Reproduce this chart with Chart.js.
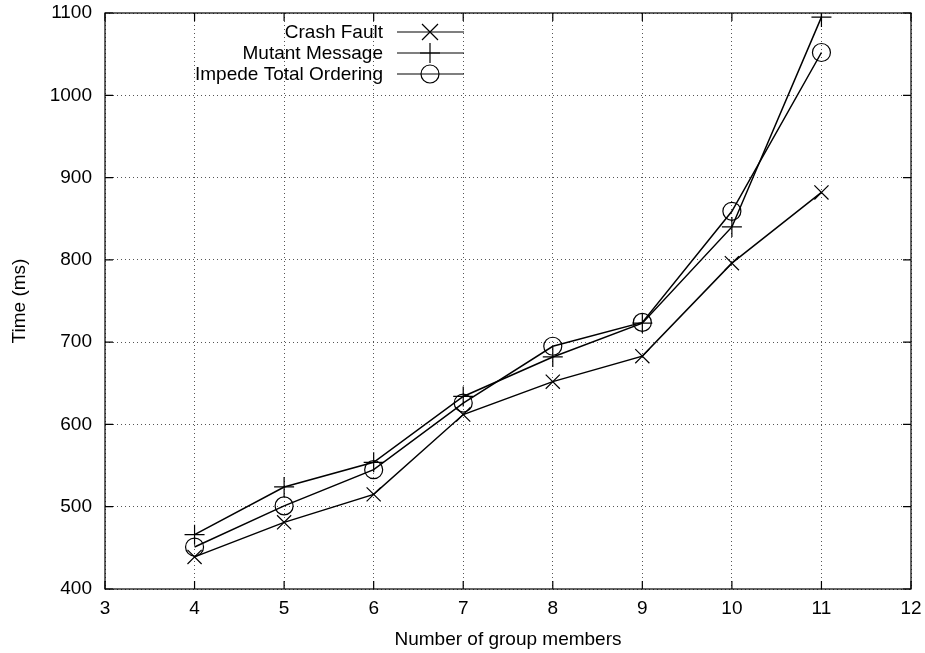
<!DOCTYPE html>
<html>
<head>
<meta charset="utf-8">
<script src="https://cdn.jsdelivr.net/npm/chart.js@4/dist/chart.umd.min.js"></script>
<style>
  body { margin: 0; background: #fff; }
  #wrap { width: 925px; height: 653px; }
</style>
</head>
<body>
<div id="wrap"><canvas id="chart"></canvas></div>
<script>
// group sizes on the x axis
var members = [4, 5, 6, 7, 8, 9, 10, 11];

// times in ms
var crashFault = [439, 481, 515, 612, 652, 683, 796, 882];
var mutantMessage = [466, 524, 554, 634, 682, 723, 840, 1095];
var impedeOrdering = [451, 501, 545, 626, 695, 724, 859, 1052];

var seriesNames = ["Crash Fault", "Mutant Message", "Impede Total Ordering"];
var markers = ["crossRot", "cross", "circle"];

function pts(vals) {
  return vals.map(function (v, i) { return { x: members[i], y: v }; });
}

var font = "'Liberation Sans', Arial, sans-serif";

// gnuplot-like key: text right aligned, sample line with marker on the right
var keyPlugin = {
  id: 'gnuKey',
  afterDatasetsDraw: function (chart) {
    var c = chart.ctx;
    c.save();
    c.font = "19px " + font;
    c.fillStyle = "#000";
    c.textAlign = "right";
    c.textBaseline = "middle";
    chart.data.datasets.forEach(function (ds, i) {
      var y = 32 + i * 21;
      c.fillText(ds.label, 383, y + 1);
      c.strokeStyle = "#000";
      c.lineWidth = 1.2;
      c.beginPath();
      c.moveTo(397, y);
      c.lineTo(464, y);
      c.stroke();
      var cx = 430;
      c.beginPath();
      if (ds.pointStyle === "crossRot") {
        c.moveTo(cx - 8, y - 8); c.lineTo(cx + 8, y + 8);
        c.moveTo(cx - 8, y + 8); c.lineTo(cx + 8, y - 8);
      } else if (ds.pointStyle === "cross") {
        c.moveTo(cx - 10, y); c.lineTo(cx + 10, y);
        c.moveTo(cx, y - 10); c.lineTo(cx, y + 10);
      } else {
        c.arc(cx, y, 9, 0, Math.PI * 2);
      }
      c.stroke();
    });
    c.restore();
  }
};

// inward tick marks on all four sides plus the frame
var framePlugin = {
  id: 'frame',
  afterDraw: function (chart) {
    var a = chart.chartArea, c = chart.ctx;
    var xs = chart.scales.x, ys = chart.scales.y;
    c.save();
    c.strokeStyle = "#000";
    c.lineWidth = 1.2;
    c.strokeRect(a.left, a.top, a.right - a.left, a.bottom - a.top);
    c.beginPath();
    xs.ticks.forEach(function (t) {
      var px = xs.getPixelForValue(t.value);
      c.moveTo(px, a.bottom); c.lineTo(px, a.bottom - 8);
      c.moveTo(px, a.top); c.lineTo(px, a.top + 8);
    });
    ys.ticks.forEach(function (t) {
      var py = ys.getPixelForValue(t.value);
      c.moveTo(a.left, py); c.lineTo(a.left + 8, py);
      c.moveTo(a.right, py); c.lineTo(a.right - 8, py);
    });
    c.stroke();
    c.restore();
  }
};

var datasets = [crashFault, mutantMessage, impedeOrdering].map(function (vals, i) {
  return {
    label: seriesNames[i],
    data: pts(vals),
    borderColor: "#000",
    backgroundColor: "rgba(0,0,0,0)",
    borderWidth: 1.5,
    pointStyle: markers[i],
    pointRadius: markers[i] === "circle" ? 9 : 10,
    pointBorderColor: "#000",
    pointBorderWidth: 1.2,
    showLine: true,
    tension: 0
  };
});

new Chart(document.getElementById("chart"), {
  type: 'scatter',
  data: { datasets: datasets },
  plugins: [keyPlugin, framePlugin],
  options: {
    responsive: true,
    maintainAspectRatio: false,
    animation: false,
    layout: { padding: { top: 13, right: 14, left: 0, bottom: 0 } },
    plugins: { legend: { display: false }, tooltip: { enabled: false } },
    scales: {
      x: {
        type: 'linear', min: 3, max: 12,
        afterFit: function (s) { s.height = 64; s.paddingLeft = 0; s.paddingRight = 0; },
        ticks: { stepSize: 1, color: "#000", font: { family: font, size: 19 }, padding: 8 },
        grid: { color: "#555", lineWidth: 1, drawTicks: false },
        border: { display: false, dash: [1, 3] },
        title: { display: true, text: "Number of group members", color: "#000",
                 font: { family: font, size: 19 }, padding: { top: 4, bottom: 2 } }
      },
      y: {
        min: 400, max: 1100,
        afterFit: function (s) { s.width = 105; s.paddingTop = 0; s.paddingBottom = 0; },
        ticks: { stepSize: 100, color: "#000", font: { family: font, size: 19 }, padding: 13,
                 callback: function (v) { return String(v); } },
        grid: { color: "#555", lineWidth: 1, drawTicks: false },
        border: { display: false, dash: [1, 3] },
        title: { display: true, text: "Time (ms)", color: "#000",
                 font: { family: font, size: 19 }, padding: { top: 8, bottom: 0 } }
      }
    }
  }
});
</script>
</body>
</html>
